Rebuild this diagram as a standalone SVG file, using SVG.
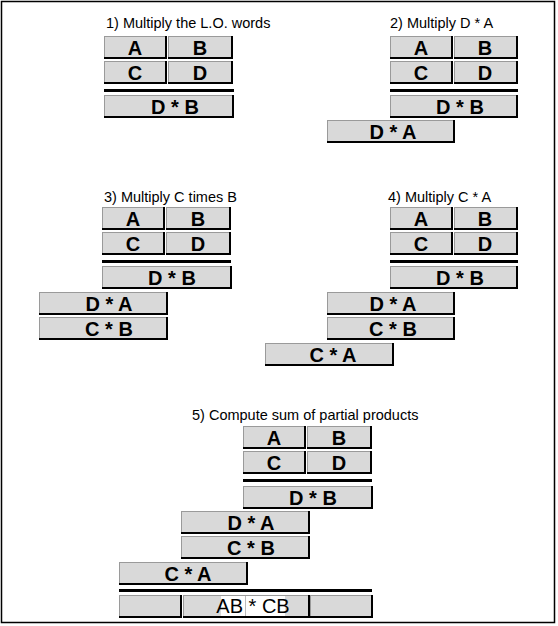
<svg xmlns="http://www.w3.org/2000/svg" width="558" height="626" viewBox="0 0 558 626">
<style>
.b{fill:#d9d9d9;stroke:#9a9a9a;stroke-width:1}
.s{fill:none;stroke:#000;stroke-width:2}
.t{font-family:"Liberation Sans",Arial,sans-serif;font-weight:bold;font-size:20px;text-anchor:middle;fill:#000}
.h{font-family:"Liberation Sans",Arial,sans-serif;font-size:14.5px;fill:#000}
.bar{fill:#000}
</style>
<rect x="1.5" y="1.5" width="553" height="621" fill="#fff" stroke="#000" stroke-width="1.5"/>
<g id="titles">
<text class="h" x="106" y="28">1) Multiply the L.O. words</text>
<text class="h" x="390" y="28">2) Multiply D * A</text>
<text class="h" x="104" y="202">3) Multiply C times B</text>
<text class="h" x="388" y="202">4) Multiply C * A</text>
<text class="h" x="192" y="420">5) Compute sum of partial products</text>
</g>
<g id="bars">
<rect class="bar" x="104" y="89" width="130" height="3"/>
<rect class="bar" x="390" y="89" width="128" height="3"/>
<rect class="bar" x="102" y="260" width="129" height="3"/>
<rect class="bar" x="390" y="260" width="128" height="3"/>
<rect class="bar" x="243" y="479" width="129" height="3"/>
<rect class="bar" x="119" y="589" width="253" height="3"/>
</g>
<!-- Panel 1 -->
<g id="p1">
<g id="p1A"><rect class="b" x="104.5" y="36.5" width="62" height="21"/><path class="s" d="M104 58 H166 V36"/><text class="t" x="135" y="55">A</text></g>
<g id="p1B"><rect class="b" x="168.5" y="36.5" width="63" height="21"/><path class="s" d="M168 58 H232 V36"/><text class="t" x="200" y="55">B</text></g>
<g id="p1C"><rect class="b" x="104.5" y="61.5" width="62" height="21"/><path class="s" d="M104 83 H166 V61"/><text class="t" x="135" y="80">C</text></g>
<g id="p1D"><rect class="b" x="168.5" y="61.5" width="63" height="21"/><path class="s" d="M168 83 H232 V61"/><text class="t" x="200" y="80">D</text></g>
<g id="p1DB"><rect class="b" x="104.5" y="95.5" width="128" height="21"/><path class="s" d="M104 117 H233 V95"/><text class="t" x="175" y="114">D * B</text></g>
</g>
<!-- Panel 2 -->
<g id="p2">
<g id="p2A"><rect class="b" x="390.5" y="36.5" width="62" height="21"/><path class="s" d="M390 58 H452 V36"/><text class="t" x="421" y="55">A</text></g>
<g id="p2B"><rect class="b" x="454.5" y="36.5" width="62" height="21"/><path class="s" d="M454 58 H517 V36"/><text class="t" x="485" y="55">B</text></g>
<g id="p2C"><rect class="b" x="390.5" y="61.5" width="62" height="21"/><path class="s" d="M390 83 H452 V61"/><text class="t" x="421" y="80">C</text></g>
<g id="p2D"><rect class="b" x="454.5" y="61.5" width="62" height="21"/><path class="s" d="M454 83 H517 V61"/><text class="t" x="485" y="80">D</text></g>
<g id="p2DB"><rect class="b" x="390.5" y="95.5" width="126" height="21"/><path class="s" d="M390 117 H517 V95"/><text class="t" x="460" y="114">D * B</text></g>
<g id="p2DA"><rect class="b" x="327.5" y="120.5" width="126" height="21"/><path class="s" d="M327 142 H454 V120"/><text class="t" x="393" y="139">D * A</text></g>
</g>
<!-- Panel 3 -->
<g id="p3">
<g id="p3A"><rect class="b" x="102.5" y="207.5" width="62" height="21"/><path class="s" d="M102 229 H164 V207"/><text class="t" x="133" y="226">A</text></g>
<g id="p3B"><rect class="b" x="166.5" y="207.5" width="63" height="21"/><path class="s" d="M166 229 H230 V207"/><text class="t" x="198" y="226">B</text></g>
<g id="p3C"><rect class="b" x="102.5" y="232.5" width="62" height="21"/><path class="s" d="M102 254 H164 V232"/><text class="t" x="133" y="251">C</text></g>
<g id="p3D"><rect class="b" x="166.5" y="232.5" width="63" height="21"/><path class="s" d="M166 254 H230 V232"/><text class="t" x="198" y="251">D</text></g>
<g id="p3DB"><rect class="b" x="102.5" y="266.5" width="128" height="21"/><path class="s" d="M102 288 H231 V266"/><text class="t" x="172" y="285">D * B</text></g>
<g id="p3DA"><rect class="b" x="39.5" y="292.5" width="127" height="21"/><path class="s" d="M39 314 H167 V292"/><text class="t" x="109" y="311">D * A</text></g>
<g id="p3CB"><rect class="b" x="39.5" y="317.5" width="127" height="21"/><path class="s" d="M39 339 H167 V317"/><text class="t" x="109" y="336">C * B</text></g>
</g>
<!-- Panel 4 -->
<g id="p4">
<g id="p4A"><rect class="b" x="390.5" y="207.5" width="62" height="21"/><path class="s" d="M390 229 H452 V207"/><text class="t" x="421" y="226">A</text></g>
<g id="p4B"><rect class="b" x="454.5" y="207.5" width="62" height="21"/><path class="s" d="M454 229 H517 V207"/><text class="t" x="485" y="226">B</text></g>
<g id="p4C"><rect class="b" x="390.5" y="232.5" width="62" height="21"/><path class="s" d="M390 254 H452 V232"/><text class="t" x="421" y="251">C</text></g>
<g id="p4D"><rect class="b" x="454.5" y="232.5" width="62" height="21"/><path class="s" d="M454 254 H517 V232"/><text class="t" x="485" y="251">D</text></g>
<g id="p4DB"><rect class="b" x="390.5" y="266.5" width="126" height="21"/><path class="s" d="M390 288 H517 V266"/><text class="t" x="460" y="285">D * B</text></g>
<g id="p4DA"><rect class="b" x="327.5" y="292.5" width="126" height="21"/><path class="s" d="M327 314 H454 V292"/><text class="t" x="393" y="311">D * A</text></g>
<g id="p4CB"><rect class="b" x="327.5" y="317.5" width="126" height="21"/><path class="s" d="M327 339 H454 V317"/><text class="t" x="393" y="336">C * B</text></g>
<g id="p4CA"><rect class="b" x="265.5" y="343.5" width="127" height="21"/><path class="s" d="M265 365 H393 V343"/><text class="t" x="333" y="362">C * A</text></g>
</g>
<!-- Panel 5 -->
<g id="p5">
<g id="p5A"><rect class="b" x="243.5" y="426.5" width="62" height="21"/><path class="s" d="M243 448 H305 V426"/><text class="t" x="274" y="445">A</text></g>
<g id="p5B"><rect class="b" x="307.5" y="426.5" width="63" height="21"/><path class="s" d="M307 448 H371 V426"/><text class="t" x="339" y="445">B</text></g>
<g id="p5C"><rect class="b" x="243.5" y="451.5" width="62" height="21"/><path class="s" d="M243 473 H305 V451"/><text class="t" x="274" y="470">C</text></g>
<g id="p5D"><rect class="b" x="307.5" y="451.5" width="63" height="21"/><path class="s" d="M307 473 H371 V451"/><text class="t" x="339" y="470">D</text></g>
<g id="p5DB"><rect class="b" x="243.5" y="486.5" width="128" height="21"/><path class="s" d="M243 508 H372 V486"/><text class="t" x="313" y="505">D * B</text></g>
<g id="p5DA"><rect class="b" x="181.5" y="511.5" width="127" height="21"/><path class="s" d="M181 533 H309 V511"/><text class="t" x="251" y="530">D * A</text></g>
<g id="p5CB"><rect class="b" x="181.5" y="536.5" width="127" height="21"/><path class="s" d="M181 558 H309 V536"/><text class="t" x="251" y="555">C * B</text></g>
<g id="p5CA"><rect class="b" x="119.5" y="562.5" width="127" height="21"/><path class="s" d="M119 584 H247 V562"/><text class="t" x="188" y="581">C * A</text></g>
<g id="p5R1"><rect class="b" x="119.5" y="595.5" width="62" height="21"/><path class="s" d="M119 617 H181 V595"/></g>
<g id="p5R2"><rect class="b" x="183.5" y="595.5" width="125" height="21"/><path class="s" d="M183 617 H309 V595"/>
<rect x="221" y="596" width="64" height="20" fill="#fff"/><line x1="245.5" y1="596" x2="245.5" y2="616" stroke="#bbb" stroke-width="1"/>
<text class="t" x="253" y="613" style="font-weight:normal">AB * CB</text></g>
<g id="p5R3"><rect class="b" x="310.5" y="595.5" width="61" height="21"/><path class="s" d="M310 617 H372 V595"/></g>
</g>
</svg>
